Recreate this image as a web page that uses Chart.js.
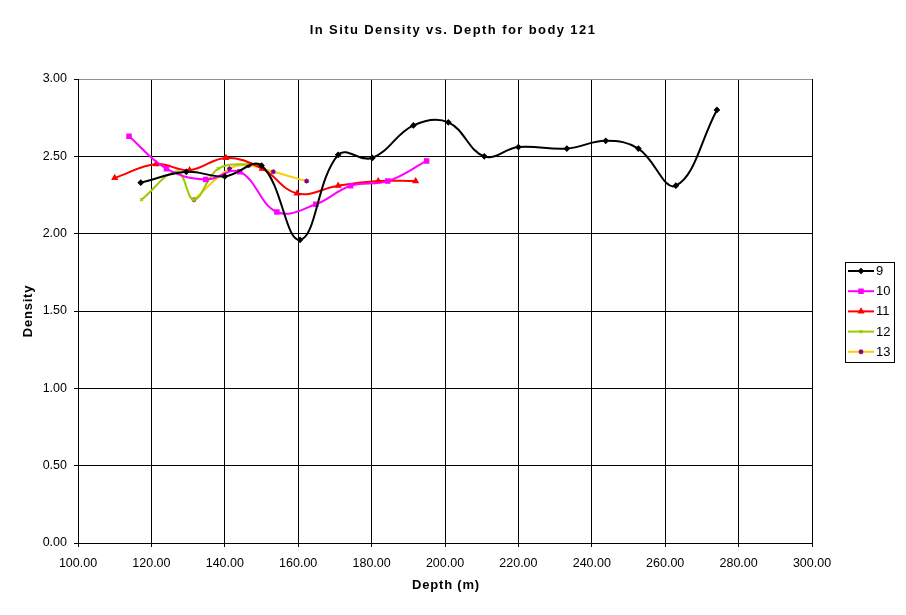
<!DOCTYPE html>
<html>
<head>
<meta charset="utf-8">
<script src="https://cdn.jsdelivr.net/npm/chart.js@4.4.1/dist/chart.umd.min.js"></script>
<style>
html,body{margin:0;padding:0;background:#fff;}
canvas{display:block;}
</style>
</head>
<body>
<canvas id="c" width="906" height="615"></canvas>
<script>
// ---- data ----
const seriesNames = ["9", "10", "11", "12", "13"];
const depth9 = [117.1, 129.5, 140.0, 150.0, 160.5, 170.9, 180.2, 191.4, 200.9, 210.7, 220.0, 233.2, 243.8, 252.7, 262.9, 274.1];
const dens9  = [2.33, 2.40, 2.37, 2.44, 1.96, 2.51, 2.49, 2.70, 2.72, 2.50, 2.56, 2.55, 2.60, 2.55, 2.31, 2.80];
const depth10 = [113.9, 124.1, 134.8, 144.1, 154.2, 164.8, 174.3, 184.4, 195.0];
const dens10  = [2.63, 2.42, 2.35, 2.40, 2.14, 2.19, 2.31, 2.34, 2.47];
const depth11 = [110.0, 121.3, 130.4, 140.3, 150.2, 159.7, 170.9, 181.8, 192.0];
const dens11  = [2.36, 2.45, 2.41, 2.49, 2.42, 2.26, 2.31, 2.34, 2.34];
const depth12 = [117.3, 127.0, 131.6, 138.2, 147.0, 150.0];
const dens12  = [2.22, 2.40, 2.22, 2.42, 2.45, 2.44];
const depth13 = [131.6, 141.3, 146.5, 153.2, 162.3];
const dens13  = [2.22, 2.42, 2.44, 2.40, 2.34];
const xTicks = [100, 120, 140, 160, 180, 200, 220, 240, 260, 280, 300];
const yTicks = [0, 0.5, 1.0, 1.5, 2.0, 2.5, 3.0];

const titleText = "In Situ Density vs. Depth for body 121";
const xTitle = "Depth (m)";
const yTitle = "Density";

function pts(xs, ys){ return xs.map((x,i)=>({x:x, y:ys[i]})); }

const styles = [
  {line:'#000000', mark:'#000000', style:'rectRot', r:2.5},
  {line:'#FF00FF', mark:'#FF00FF', style:'rect', r:3},
  {line:'#FF0000', mark:'#FF0000', style:'triangle', r:3},
  {line:'#99CC00', mark:'#99CC00', style:'crossRot', r:2},
  {line:'#FFCC00', mark:'#800080', style:'star', r:2.5}
];
const allData = [pts(depth9,dens9), pts(depth10,dens10), pts(depth11,dens11), pts(depth12,dens12), pts(depth13,dens13)];

const datasets = allData.map((d,i)=>({
  label: seriesNames[i],
  data: d,
  showLine: true,
  borderColor: styles[i].line,
  borderWidth: 2,
  tension: 0.4,
  pointStyle: styles[i].style,
  pointRadius: styles[i].r,
  pointBackgroundColor: styles[i].mark,
  pointBorderColor: styles[i].mark,
  pointBorderWidth: 1.2,
  fill: false
}));

const FONT = "'Liberation Sans', Arial, sans-serif";

const decor = {
  id: 'decor',
  afterDraw(chart){
    const ctx = chart.ctx;
    ctx.save();
    // title
    ctx.fillStyle = '#000';
    ctx.font = "bold 13px " + FONT;
    ctx.textAlign = 'center';
    ctx.textBaseline = 'middle';
    try { ctx.letterSpacing = '1.4px'; } catch(e){}
    ctx.fillText(titleText, 453, 30);
    try { ctx.letterSpacing = '0.8px'; } catch(e){}
    ctx.fillText(xTitle, 446, 585);
    ctx.save();
    ctx.translate(28, 311);
    ctx.rotate(-Math.PI/2);
    ctx.fillText(yTitle, 0, 0);
    ctx.restore();
    try { ctx.letterSpacing = '0px'; } catch(e){}
    // legend
    const lx = 845.5, ly = 262.5, lw = 49, lh = 100;
    ctx.fillStyle = '#fff';
    ctx.fillRect(lx, ly, lw, lh);
    ctx.strokeStyle = '#000';
    ctx.lineWidth = 1;
    ctx.strokeRect(lx, ly, lw, lh);
    ctx.font = "13px " + FONT;
    ctx.textAlign = 'left';
    ctx.textBaseline = 'middle';
    seriesNames.forEach((n,i)=>{
      const y = 271 + i*20.2;
      ctx.strokeStyle = styles[i].line;
      ctx.lineWidth = 2;
      ctx.beginPath(); ctx.moveTo(848, y); ctx.lineTo(874, y); ctx.stroke();
      ctx.fillStyle = styles[i].mark;
      ctx.strokeStyle = styles[i].mark;
      ctx.lineWidth = 1.2;
      Chart.helpers.drawPoint(ctx, {pointStyle: styles[i].style, radius: styles[i].r, rotation: 0, borderWidth: 1.2}, 861, y);
      ctx.fillStyle = '#000';
      ctx.fillText(n, 876, y + 0.5);
    });
    ctx.restore();
  }
};

new Chart(document.getElementById('c'), {
  type: 'scatter',
  data: { datasets },
  plugins: [decor],
  options: {
    responsive: false,
    animation: false,
    layout: { padding: { left: 0, right: 94, top: 79, bottom: 0 } },
    plugins: { legend: { display: false }, title: { display: false }, tooltip: { enabled: false } },
    scales: {
      x: {
        type: 'linear', min: 100, max: 300,
        afterFit(s){ s.height = 72; },
        afterBuildTicks(s){ s.ticks = xTicks.map(v=>({value:v})); },
        ticks: { stepSize: 20, color: '#000', font: { family: FONT, size: 12.5 }, padding: 9, maxRotation: 0,
                 callback: v => Number(v).toFixed(2) },
        grid: { color: '#000', lineWidth: 1, tickLength: 4, tickColor: '#000' },
        border: { color: '#000', width: 1 }
      },
      y: {
        type: 'linear', min: 0, max: 3,
        afterFit(s){ s.width = 78; },
        afterBuildTicks(s){ s.ticks = yTicks.map(v=>({value:v})); },
        ticks: { stepSize: 0.5, color: '#000', font: { family: FONT, size: 12.5 }, padding: 7,
                 callback: v => Number(v).toFixed(2) },
        grid: { color: c => (c.tick && c.tick.value === 3) ? '#909090' : '#000', lineWidth: 1, tickLength: 4, tickColor: '#000' },
        border: { color: '#000', width: 1 }
      }
    }
  }
});
</script>
</body>
</html>
